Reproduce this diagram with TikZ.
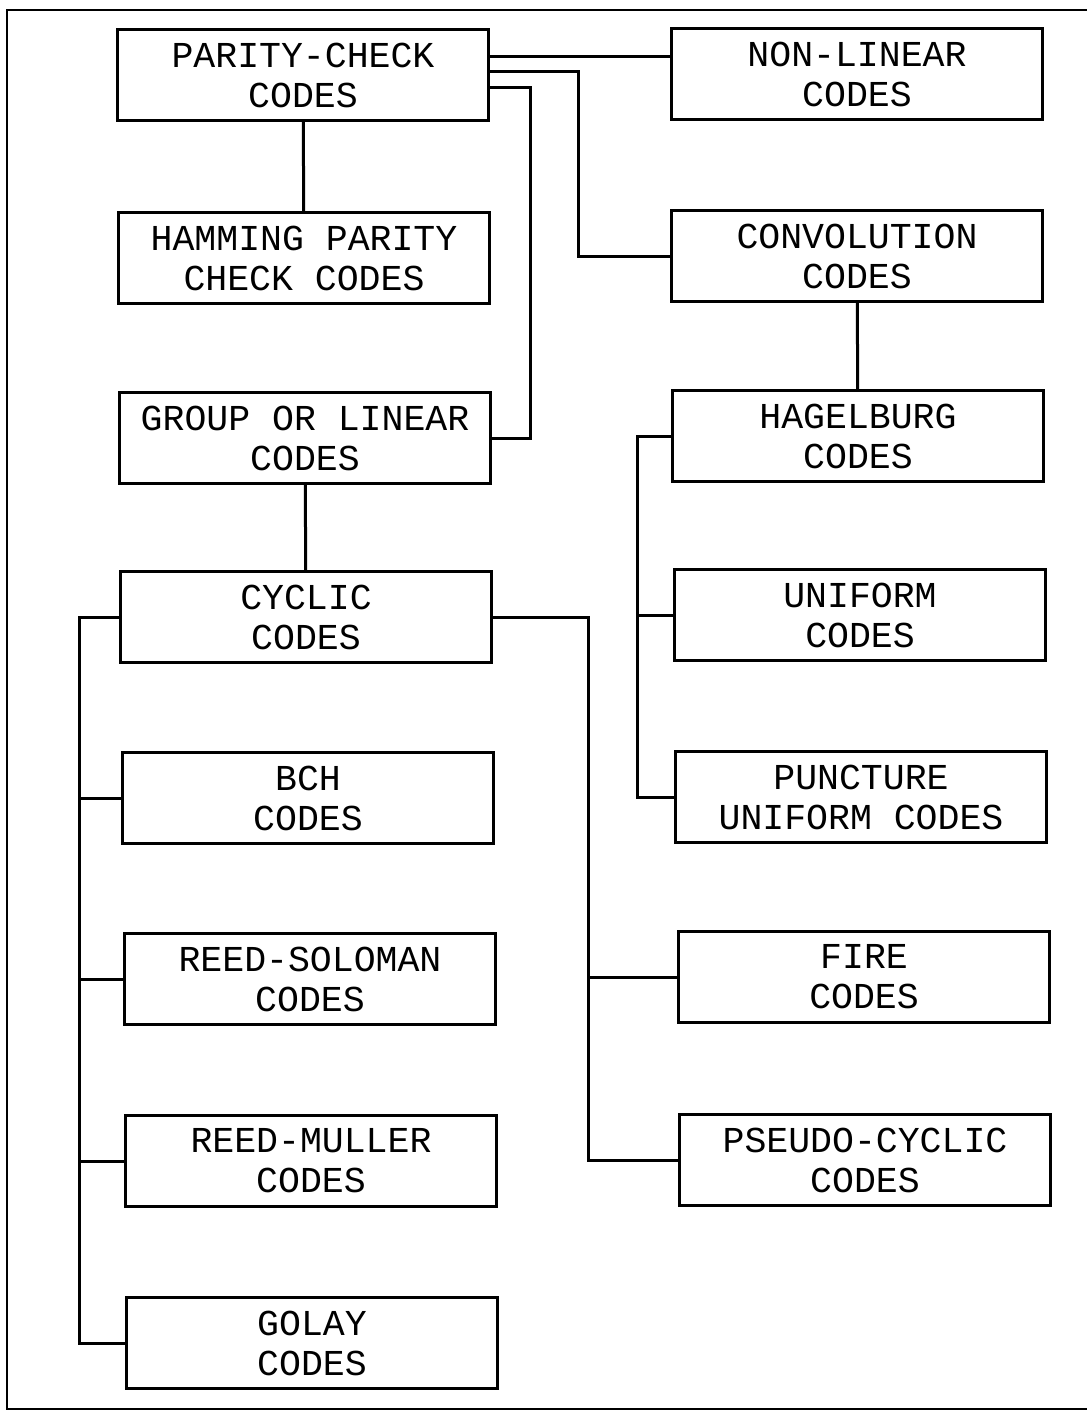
\documentclass[tikz,border=0pt]{standalone}
\usepackage{fontspec}
\setmonofont{Liberation Mono}
\usetikzlibrary{positioning}
\tikzset{
  codebox/.style={draw, line width=3pt, minimum width=371pt, minimum height=91pt,
    align=center, inner sep=0pt, font=\ttfamily\fontsize{36.5}{40}\selectfont},
  link/.style={line width=3pt}
}
\begin{document}
\begin{tikzpicture}[x=1pt, y=-1pt]
  \useasboundingbox (0,0) rectangle (1087,1411);
  % outer frame
  \draw[line width=2.5pt] (1087,10) -- (7,10) -- (7,1409) -- (1087,1409);
  % left column
  \node[codebox] (parity)  at (303,75)   {PARITY-CHECK\\CODES};
  \node[codebox] (hamming) at (304,258)  {HAMMING PARITY\\CHECK CODES};
  \node[codebox] (group)   at (305,438)  {GROUP OR LINEAR\\CODES};
  \node[codebox] (cyclic)  at (306,617)  {CYCLIC\\CODES};
  \node[codebox] (bch)     at (308,798)  {BCH\\CODES};
  \node[codebox] (rs)      at (310,979)  {REED-SOLOMAN\\CODES};
  \node[codebox] (rm)      at (311,1161) {REED-MULLER\\CODES};
  \node[codebox] (golay)   at (312,1343) {GOLAY\\CODES};
  % right column
  \node[codebox] (nonlin)  at (857,74)   {NON-LINEAR\\CODES};
  \node[codebox] (conv)    at (857,256)  {CONVOLUTION\\CODES};
  \node[codebox] (hagel)   at (858,436)  {HAGELBURG\\CODES};
  \node[codebox] (unif)    at (860,615)  {UNIFORM\\CODES};
  \node[codebox] (punct)   at (861,797)  {PUNCTURE\\UNIFORM CODES};
  \node[codebox] (fire)    at (864,977)  {FIRE\\CODES};
  \node[codebox] (pseudo)  at (865,1160) {PSEUDO-CYCLIC\\CODES};
  % bus positions
  \coordinate (lbus) at (79,0);
  \coordinate (rbus) at (588,0);
  \coordinate (hbus) at (637,0);
  \coordinate (pc1) at ([yshift=19pt]parity.east);
  \coordinate (pc2) at ([yshift=4pt]parity.east);
  \coordinate (pc3) at ([yshift=-12pt]parity.east);
  % links out of parity-check codes
  \draw[link] (parity) -- (hamming);
  \draw[link] (pc1) -- (pc1 -| nonlin.west);
  \draw[link] (pc2) -| ([xshift=-92pt]conv.west) -- (conv.west);
  \draw[link] (pc3) -| ([xshift=38pt]group.east) -- (group.east);
  \draw[link] (group) -- (cyclic);
  \draw[link] (conv) -- (hagel);
  % hagelburg family
  \draw[link] (hagel.west) -- (hagel.west -| hbus) |- (punct.west);
  \draw[link] (unif.west) -- (unif.west -| hbus);
  % cyclic family
  \draw[link] (cyclic.west) -- (cyclic.west -| lbus) |- (golay.west);
  \foreach \n in {bch, rs, rm}
    \draw[link] (\n.west) -- (\n.west -| lbus);
  \draw[link] (cyclic.east) -- (cyclic.east -| rbus) |- (pseudo.west);
  \draw[link] (fire.west) -- (fire.west -| rbus);
\end{tikzpicture}
\end{document}
